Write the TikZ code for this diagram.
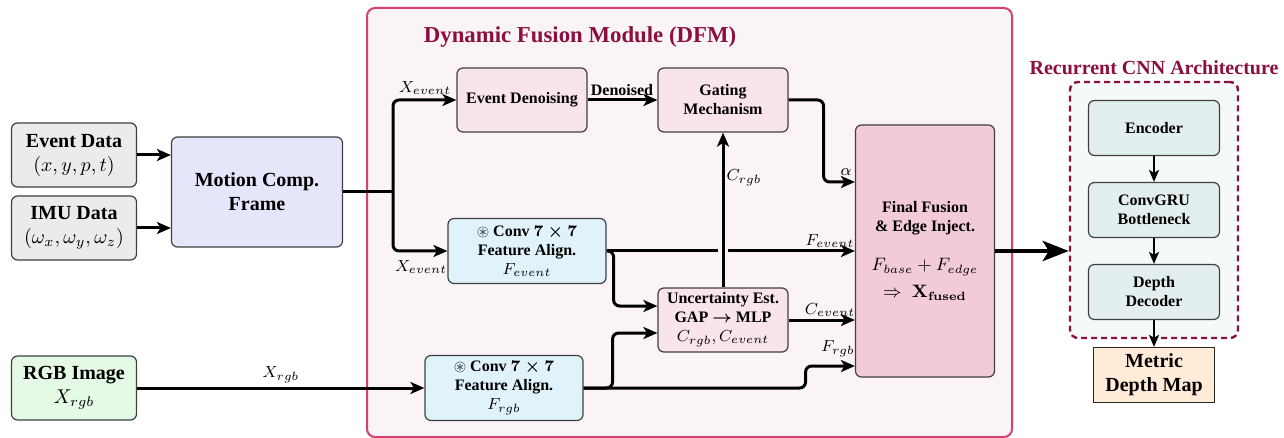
\documentclass[tikz,border=0pt]{standalone}
\usepackage[no-math]{fontspec}
\setmainfont{Liberation Serif}
\usepackage{amsmath,amssymb}
\usetikzlibrary{arrows.meta,calc}

\definecolor{srcgray}{RGB}{235,235,235}
\definecolor{motfill}{RGB}{230,230,250}
\definecolor{rgbfill}{RGB}{228,250,228}
\definecolor{dfmbg}{RGB}{250,244,247}
\definecolor{dfmline}{RGB}{214,64,110}
\definecolor{crimson}{RGB}{140,16,62}
\definecolor{pinkbox}{RGB}{249,228,236}
\definecolor{finfill}{RGB}{242,202,217}
\definecolor{convfill}{RGB}{224,243,250}
\definecolor{rcnnbg}{RGB}{245,249,250}
\definecolor{encfill}{RGB}{227,239,239}
\definecolor{outfill}{RGB}{255,235,216}

\tikzset{
  box/.style={draw=black!75, line width=0.6pt, rounded corners=3pt, align=center, inner sep=1pt},
  srcbox/.style={box, fill=srcgray, minimum width=62.5pt, minimum height=32pt},
  dfmnode/.style={box, fill=pinkbox, font=\footnotesize, minimum width=65pt, minimum height=32pt},
  convnode/.style={box, fill=convfill, font=\footnotesize, minimum width=79pt, minimum height=32.5pt},
  rnnnode/.style={box, fill=encfill, font=\footnotesize, minimum width=65.5pt, minimum height=27.5pt},
  conn/.style={line width=1.5pt, rounded corners=3pt},
  arr/.style={conn, -{Stealth[length=7pt,width=6pt,inset=1.8pt]}},
  smallarr/.style={line width=1.2pt, -{Stealth[length=6pt,width=5pt,inset=1.5pt]}},
  lbl/.style={font=\footnotesize, inner sep=1pt},
}

\begin{document}
\begin{tikzpicture}[x=0.5pt, y=-0.5pt]
\useasboundingbox[fill=white] (0,0) rectangle (1284,438);

% containers
\node[draw=dfmline, fill=dfmbg, line width=1pt, rounded corners=4pt,
      minimum width=322.5pt, minimum height=214.5pt, inner sep=0pt] (dfm) at (689.5,222.5) {};
\node[text=crimson, font=\fontsize{11.4}{13}\selectfont\bfseries] (dfmtitle) at (580,37) {Dynamic Fusion Module (DFM)};

\node[draw=crimson, fill=rcnnbg, line width=1.2pt, dash pattern=on 3pt off 2pt, rounded corners=4pt,
      minimum width=84pt, minimum height=128pt, inner sep=0pt] (rcnn) at (1154,210) {};
\node[text=crimson, font=\bfseries] (rcnntitle) at (1154,68) {Recurrent CNN Architecture};

% input blocks
\node[srcbox] (ev) at (74,155) {\textbf{Event Data}\\ $(x,y,p,t)$};
\node[srcbox] (imu) at (74,228) {\textbf{IMU Data}\\ $(\omega_x,\omega_y,\omega_z)$};
\node[srcbox, fill=rgbfill] (rgb) at (74,388) {\textbf{RGB Image}\\ $X_{rgb}$};
\node[box, fill=motfill, minimum width=85.5pt, minimum height=55pt, font=\bfseries] (mot) at (257,192) {Motion Comp.\\ Frame};

% fusion module blocks
\node[dfmnode] (den) at (522,100) {\textbf{Event Denoising}};
\node[dfmnode] (gate) at (723,100) {\textbf{Gating}\\ \textbf{Mechanism}};
\node[convnode] (cev) at (527,251) {$\circledast$ \textbf{Conv {\boldmath$7\times7$}}\\ \textbf{Feature Align.}\\ $F_{event}$};
\node[dfmnode] (unc) at (723,320) {\textbf{Uncertainty Est.}\\ \textbf{GAP {\boldmath$\to$} MLP}\\ $C_{rgb},C_{event}$};
\node[convnode] (crgb) at (504,388) {$\circledast$ \textbf{Conv {\boldmath$7\times7$}}\\ \textbf{Feature Align.}\\ $F_{rgb}$};
\node[box, fill=finfill, font=\footnotesize, minimum width=69.5pt, minimum height=126pt] (fin) at (925,251)
  {\textbf{Final Fusion}\\ \textbf{\& Edge Inject.}\\[10pt] {\small $F_{base}+F_{edge}$}\\[4pt] {\small $\Rightarrow\;\mathbf{X}_{\mathbf{fused}}$}};

% recurrent network blocks
\node[rnnnode] (enc) at (1154,128) {\textbf{Encoder}};
\node[rnnnode] (gru) at (1154,210) {\textbf{ConvGRU}\\ \textbf{Bottleneck}};
\node[rnnnode] (dec) at (1154,292) {\textbf{Depth}\\ \textbf{Decoder}};
\node[draw=black!85, line width=0.6pt, fill=outfill, align=center, font=\bfseries,
      minimum width=60.5pt, minimum height=27.5pt, inner sep=1pt] (out) at (1154,375) {Metric\\ Depth Map};

% helper coordinates
\coordinate (bus) at (393,192);
\coordinate (ya) at (0,182);
\coordinate (yu1) at (0,306);
\coordinate (yu2) at (0,333);
\coordinate (yfr) at (0,366);
\coordinate (xcross) at (723,251);

% inputs to motion compensation
\draw[arr] (ev.east) -- (ev.east -| mot.west);
\draw[arr] (imu.east) -- (imu.east -| mot.west);

% event branches
\draw[conn] (mot.east) -- (bus);
\draw[arr] (bus) |- (den.west);
\draw[arr] (bus) |- (cev.west);
\node[lbl] (lxe1) at (425,88) {$X_{event}$};
\node[lbl] (lxe2) at (421,267) {$X_{event}$};

% rgb input
\draw[arr] (rgb.east) -- (crgb.west);
\node[lbl] (lxr) at (281,375) {$X_{rgb}$};

% denoising to gating
\draw[arr] (den.east) -- (gate.west);
\node[lbl, font=\footnotesize\bfseries] (ldn) at (622,90) {Denoised};

% gating weight to final fusion
\draw[arr] (gate.east) -- ++(35,0) |- (fin.west |- ya);
\node[lbl] (lal) at (846,172) {$\alpha$};

% event features to final fusion
\draw[arr] (cev.east) -- (fin.west |- cev.east);
\node[lbl] (lfe) at (830,241) {$F_{event}$};

% features to uncertainty estimation
\draw[arr] (cev.east) -- ++(7,0) |- (unc.west |- yu1);
\draw[arr] (crgb.east) -- ++(29,0) |- (unc.west |- yu2);

% rgb features to final fusion
\draw[arr] (crgb.east) -- ++(222,0) |- (fin.west |- yfr);
\node[lbl] (lfr) at (838,349) {$F_{rgb}$};

% uncertainty outputs
\draw[arr] (unc.east) -- (fin.west |- unc.east);
\node[lbl] (lce) at (830,310) {$C_{event}$};
\draw[draw=dfmbg, line width=5pt] ($(xcross)+(0,-7)$) -- ($(xcross)+(0,7)$);
\draw[arr] (unc.north) -- (gate.south);
\node[lbl] (lcr) at (744,178) {$C_{rgb}$};

% fused output to recurrent network
\draw[line width=2.3pt, -{Stealth[length=13pt,width=10pt,inset=3pt]}] (fin.east) -- (rcnn.west |- fin.east);

% recurrent chain
\draw[smallarr] (enc) -- (gru);
\draw[smallarr] (gru) -- (dec);
\draw[smallarr] (dec) -- (out);
\end{tikzpicture}
\end{document}
